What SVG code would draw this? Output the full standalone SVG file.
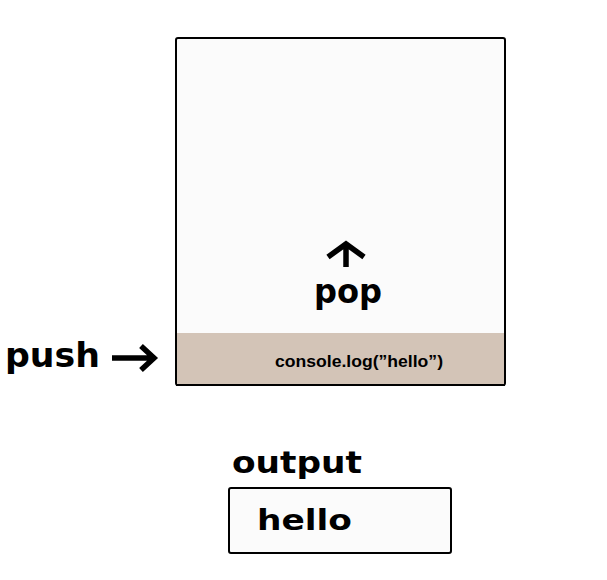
<svg xmlns="http://www.w3.org/2000/svg" width="607" height="580" viewBox="0 0 607 580">
<style>
.b{font-family:"DejaVu Sans","Open Sans",sans-serif;font-weight:bold;fill:#000}
.box{fill:#fbfbfb;stroke:#000;stroke-width:2}
.arr{stroke:#000;stroke-width:5.5;fill:none;stroke-linejoin:miter}
</style>
<rect width="607" height="580" fill="#fff"/>
<g id="stack">
<rect class="box" x="176" y="38" width="329" height="347" rx="2"/>
<rect x="177" y="333" width="327" height="51" fill="#d3c4b7"/>
<line x1="176" y1="385" x2="505" y2="385" stroke="#000" stroke-width="2"/>
<text x="275" y="367" textLength="168" lengthAdjust="spacingAndGlyphs" font-family="Liberation Sans, Arial, sans-serif" font-weight="bold" font-size="16.5">console.log(”hello”)</text>
</g>
<g id="pop">
<text class="b" x="314" y="303" textLength="68" lengthAdjust="spacingAndGlyphs" font-size="33">pop</text>
</g>
<g id="push">
<text class="b" x="5" y="367" textLength="95" lengthAdjust="spacingAndGlyphs" font-size="33">push</text>
</g>
<g id="output">
<text class="b" x="232" y="473" textLength="130" lengthAdjust="spacingAndGlyphs" font-size="30">output</text>
<rect class="box" x="229" y="488" width="222" height="65" rx="2"/>
<text class="b" x="257" y="530" textLength="95" lengthAdjust="spacingAndGlyphs" font-size="29">hello</text>
</g>
<g id="connectors">
<path class="arr" d="M346 267 V246 M328 257 L346 244 L364 257"/>
<path class="arr" d="M112 358 H153 M141 346 L154 358 L141 370"/>
</g>
</svg>
